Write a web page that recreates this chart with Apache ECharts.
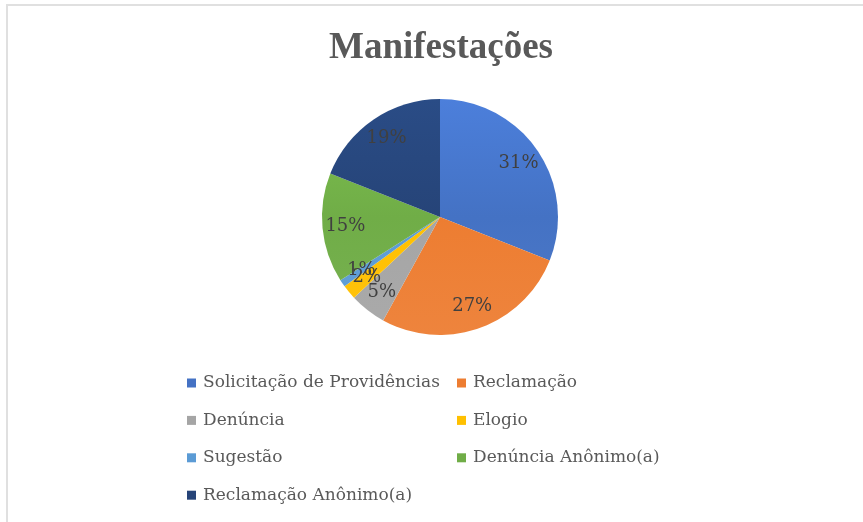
<!DOCTYPE html>
<html>
<head>
<meta charset="utf-8">
<script src="https://cdn.jsdelivr.net/npm/echarts@6/dist/echarts.min.js"></script>
<style>html,body{margin:0;padding:0;background:#fff;}#c{width:863px;height:522px;}</style>
</head>
<body>
<div id="c"></div>
<script>
const categories = ['Solicitação de Providências','Reclamação','Denúncia','Elogio','Sugestão','Denúncia Anônimo(a)','Reclamação Anônimo(a)'];
const values = [31, 27, 5, 2, 1, 15, 19];
const colors = ['#4472C4','#ED7D31','#A5A5A5','#FFC000','#5B9BD5','#70AD47','#264478'];
const leftLegend = ['Solicitação de Providências','Denúncia','Sugestão','Reclamação Anônimo(a)'];
const rightLegend = ['Reclamação','Elogio','Denúncia Anônimo(a)'];

const CX = 440, CY = 217, R = 118;
function grad(c){
  return {type:'linear', x:0, y:CY-R, x2:0, y2:CY+R, global:true,
    colorStops:[{offset:0, color:echarts.color.lift(c,-0.12)},{offset:0.5,color:c},{offset:1, color:echarts.color.lift(c,0.06)}]};
}
const data = categories.map((n,i)=>({name:n, value:values[i], itemStyle:{color:grad(colors[i])}}));
const titleFont = 'Liberation Serif';
const textFont = 'DejaVu Serif';
const chart = echarts.init(document.getElementById('c'), null, {renderer:'canvas'});
function legendCfg(names, left){
  return {
    data:names.map((n)=>({name:n, itemStyle:{color:colors[categories.indexOf(n)]}})),
    left:left, top:373,
    orient:'vertical', itemWidth:9, itemHeight:9, itemGap:17.4, icon:'rect',
    textStyle:{fontFamily:textFont, fontSize:17, lineHeight:20, color:'#595959', padding:[0,0,0,2]},
    selectedMode:false, padding:0
  };
}
chart.setOption({
  animation:false,
  backgroundColor:'#fff',
  title:{text:'Manifestações', left:436, textAlign:'center', top:25,
    textStyle:{fontFamily:titleFont, fontSize:37, fontWeight:'bold', color:'#595959'}},
  graphic:[
    {type:'rect', shape:{x:6,y:4,width:870,height:2}, style:{fill:'#e0e0e0'}},
    {type:'rect', shape:{x:6,y:4,width:2,height:530}, style:{fill:'#e0e0e0'}}
  ],
  legend:[ legendCfg(leftLegend, 187), legendCfg(rightLegend, 457) ],
  series:[
    {type:'pie', center:[CX,CY], radius:[0,R], startAngle:90, clockwise:true,
     data:data, label:{show:false}, labelLine:{show:false}, silent:true},
    {type:'pie', center:[CX,CY], radius:[66,R], startAngle:90, clockwise:true,
     data:categories.map((n,i)=>({name:n, value:values[i], itemStyle:{color:'rgba(0,0,0,0)'}})),
     silent:true, legendHoverLink:false,
     labelLayout:{hideOverlap:false},
     label:{show:true, position:'inside', formatter:'{d}%', fontFamily:textFont, fontSize:18, color:'#404040'},
     labelLine:{show:false}}
  ]
});
</script>
</body>
</html>
